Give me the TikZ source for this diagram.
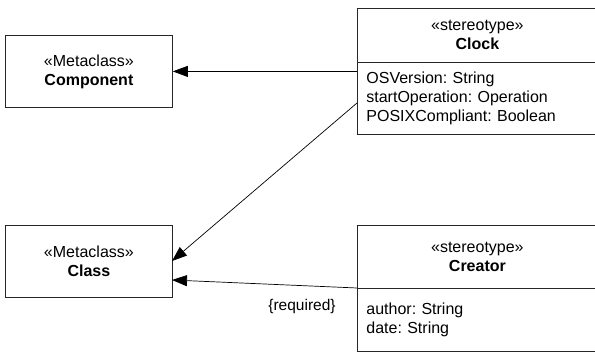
\documentclass[tikz,border=0pt]{standalone}
\usepackage{fontspec}
\setmainfont{Liberation Sans}
\usetikzlibrary{arrows.meta,calc}
\frenchspacing
\begin{document}
\begin{tikzpicture}[x=1pt,y=-1pt,
  box/.style={draw=black!85, line width=0.8pt, inner sep=0pt, anchor=north west, align=center, font=\fontsize{16}{19}\selectfont},
  attr/.style={box, align=left, inner xsep=9pt, text width=222pt, minimum width=240pt},
  arr/.style={line width=0.7pt, -{Triangle[length=15pt,width=11pt]}},
  lbl/.style={font=\fontsize{15.5}{19}\selectfont, inner sep=0pt}]
\useasboundingbox (0,0) rectangle (595,352);
\node[box, minimum width=167pt, minimum height=72pt] (comp) at (5,35) {«Metaclass»\\\textbf{Component}};
\node[box, minimum width=167pt, minimum height=72pt] (cls) at (5,225) {«Metaclass»\\\textbf{Class}};
\node[box, minimum width=240pt, minimum height=54pt] (clockhead) at (357,8) {«stereotype»\\\textbf{Clock}};
\node[attr, minimum height=72pt] (clockattr) at (357,62) {OSVersion: String\\startOperation: Operation\\POSIXCompliant: Boolean};
\node[box, minimum width=240pt, minimum height=63pt] (creatorhead) at (357,225) {«stereotype»\\\textbf{Creator}};
\node[attr, minimum height=63pt] (creatorattr) at (357,288) {author: String\\date: String};
\coordinate (c1) at (357,103);
\coordinate (t1) at (172,261);
\coordinate (t2) at (172,280);
\draw[arr] (clockattr.west |- comp.east) -- (comp.east);
\draw[arr] (c1) -- (t1);
\draw[arr] (creatorattr.north west) -- (t2);
\node[lbl] (req) at (302,306) {\{required\}};
\end{tikzpicture}
\end{document}
